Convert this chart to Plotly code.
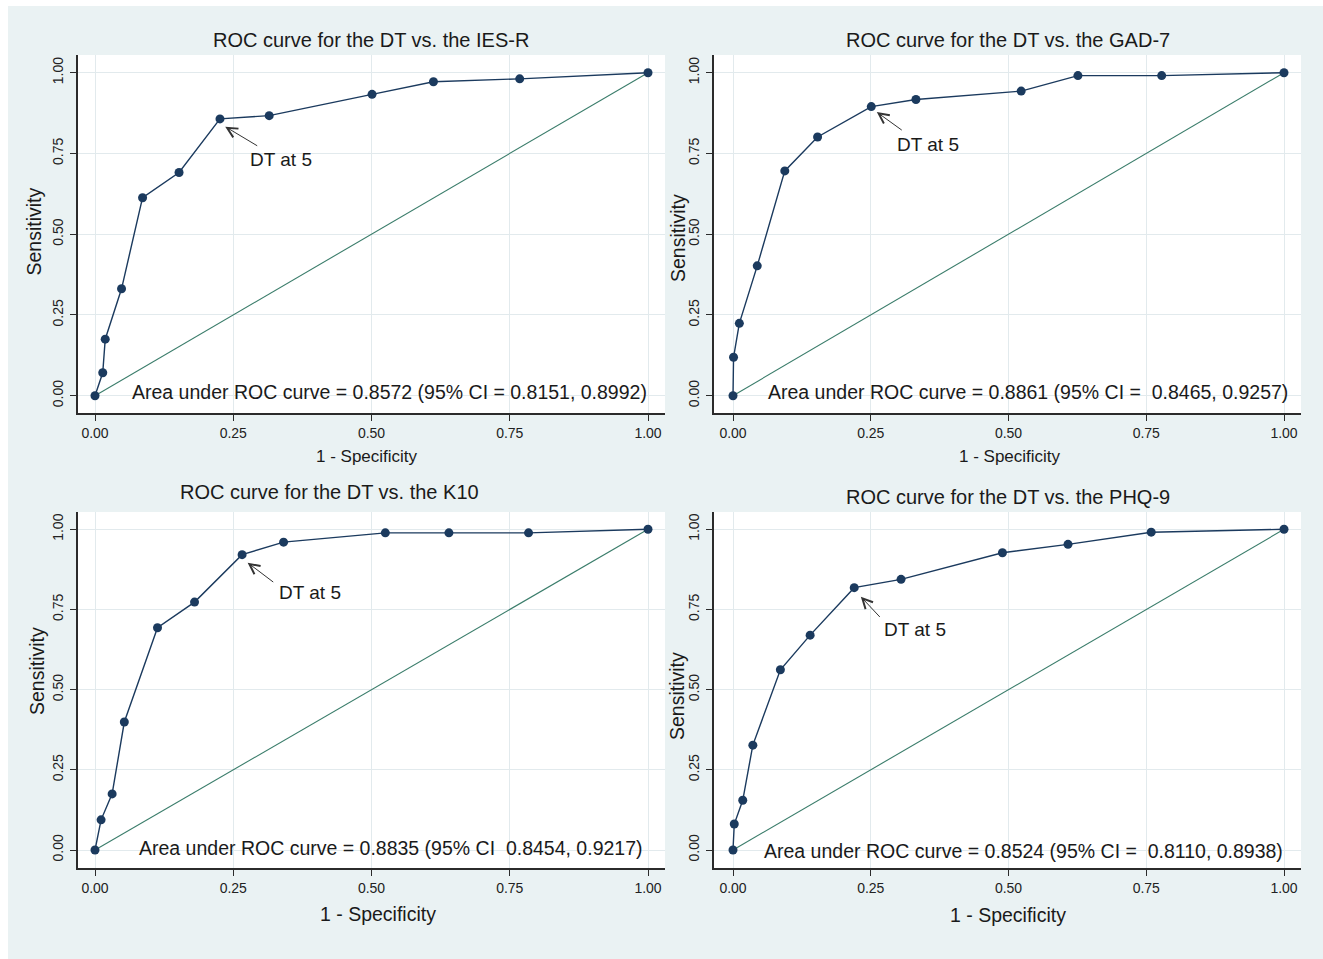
import plotly.graph_objects as go

W, H = 1323, 959

# ---------------- data ----------------
titles = [
    "ROC curve for the DT vs. the IES-R",
    "ROC curve for the DT vs. the GAD-7",
    "ROC curve for the DT vs. the K10",
    "ROC curve for the DT vs. the PHQ-9",
]
auc_labels = [
    "Area under ROC curve = 0.8572 (95% CI = 0.8151, 0.8992)",
    "Area under ROC curve = 0.8861 (95% CI =  0.8465, 0.9257)",
    "Area under ROC curve = 0.8835 (95% CI  0.8454, 0.9217)",
    "Area under ROC curve = 0.8524 (95% CI =  0.8110, 0.8938)",
]
x_title = "1 - Specificity"
y_title = "Sensitivity"
cut_label = "DT at 5"
tick_vals = [0.0, 0.25, 0.5, 0.75, 1.0]
tick_text = ["0.00", "0.25", "0.50", "0.75", "1.00"]

iesr_fpr = [0.0, 0.014, 0.0185, 0.048, 0.086, 0.152, 0.226, 0.315, 0.501, 0.612, 0.768, 1.0]
iesr_sens = [0.0, 0.071, 0.175, 0.331, 0.613, 0.691, 0.857, 0.867, 0.933, 0.972, 0.981, 1.0]

gad7_fpr = [0.0, 0.001, 0.0115, 0.044, 0.094, 0.1535, 0.251, 0.332, 0.523, 0.626, 0.778, 1.0]
gad7_sens = [0.0, 0.119, 0.224, 0.402, 0.696, 0.801, 0.895, 0.917, 0.943, 0.991, 0.991, 1.0]

k10_fpr = [0.0, 0.011, 0.031, 0.053, 0.113, 0.18, 0.266, 0.341, 0.525, 0.640, 0.784, 1.0]
k10_sens = [0.0, 0.094, 0.175, 0.399, 0.693, 0.773, 0.921, 0.960, 0.989, 0.989, 0.989, 1.0]

phq9_fpr = [0.0, 0.0023, 0.0177, 0.036, 0.086, 0.140, 0.220, 0.305, 0.489, 0.608, 0.759, 1.0]
phq9_sens = [0.0, 0.081, 0.155, 0.327, 0.562, 0.670, 0.818, 0.844, 0.927, 0.953, 0.991, 1.0]

ref_x = [0.0, 1.0]
ref_y = [0.0, 1.0]

series = [(iesr_fpr, iesr_sens), (gad7_fpr, gad7_sens), (k10_fpr, k10_sens), (phq9_fpr, phq9_sens)]

# ---------------- layout geometry (pixels) ----------------
panels = [
    dict(box=(78, 665, 55, 413), x0=95, x1=648, y0=395.7, y1=72.7,
         title=(371.5, 40), xt=(366.5, 456, 17), yt=(34, 231.5), auc=(389, 392),
         head=(0.2355, 0.833), tail=(0.296, 0.771), lab=(0.336, 0.732)),
    dict(box=(714, 1301, 55, 413), x0=733, x1=1284, y0=395.7, y1=72.7,
         title=(1008, 40), xt=(1010, 456, 17), yt=(678, 238), auc=(1028, 392),
         head=(0.261, 0.878), tail=(0.309, 0.819), lab=(0.353, 0.777)),
    dict(box=(78, 665, 512, 868), x0=95, x1=648, y0=850, y1=529.3,
         title=(329, 492), xt=(378, 914, 19.5), yt=(37, 671), auc=(391, 848),
         head=(0.276, 0.896), tail=(0.325, 0.832), lab=(0.388, 0.804)),
    dict(box=(714, 1301, 512, 868), x0=733, x1=1284, y0=850, y1=529.3,
         title=(1008, 497), xt=(1008.5, 915, 19.5), yt=(677, 696), auc=(1023, 851),
         head=(0.232, 0.790), tail=(0.269, 0.722), lab=(0.330, 0.688)),
]

FONT = "Liberation Sans, Arial, sans-serif"
TXT = "#1a1a1a"
NAVY = "#1b3a5e"
GREEN = "#3b7d6b"
GRID = "#e2eaed"
AXIS = "#2b2b2b"


def px(x):
    return x / W


def py(y):
    return 1 - y / H


fig = go.Figure()
layout = dict(
    width=W, height=H,
    margin=dict(l=0, r=0, t=0, b=0),
    paper_bgcolor="#eaf2f3",
    plot_bgcolor="white",
    showlegend=False,
    font=dict(family=FONT, color=TXT),
)
annotations = []
shapes = [
    dict(type="rect", xref="paper", yref="paper", x0=0, x1=px(8), y0=0, y1=1,
         fillcolor="white", line=dict(width=0), layer="below"),
    dict(type="rect", xref="paper", yref="paper", x0=0, x1=1, y0=py(6), y1=1,
         fillcolor="white", line=dict(width=0), layer="below"),
]

for i, (p, (fx, fy)) in enumerate(zip(panels, series)):
    n = "" if i == 0 else str(i + 1)
    xa, xb, ya, yb = p["box"]
    xr = [(xa - p["x0"]) / (p["x1"] - p["x0"]), (xb - p["x0"]) / (p["x1"] - p["x0"])]
    yr = [(p["y0"] - yb) / (p["y0"] - p["y1"]), (p["y0"] - ya) / (p["y0"] - p["y1"])]

    layout["xaxis" + n] = dict(
        domain=[px(xa), px(xb)], range=xr, anchor="y" + n,
        tickvals=tick_vals, ticktext=tick_text, ticks="outside", ticklen=6,
        tickcolor=AXIS, tickwidth=1.2, tickfont=dict(size=14, color="#222"),
        showline=True, linecolor=AXIS, linewidth=1.5, mirror=False,
        showgrid=True, gridcolor=GRID, gridwidth=1, zeroline=False,
        ticklabelstandoff=0, fixedrange=True,
    )
    layout["yaxis" + n] = dict(
        domain=[py(yb), py(ya)], range=yr, anchor="x" + n,
        tickvals=tick_vals, ticktext=tick_text, ticks="outside", ticklen=6,
        tickcolor=AXIS, tickwidth=1.2, tickfont=dict(size=14, color="#222"),
        tickangle=-90,
        showline=True, linecolor=AXIS, linewidth=1.5, mirror=False,
        showgrid=True, gridcolor=GRID, gridwidth=1, zeroline=False,
        ticklabelstandoff=2, fixedrange=True,
    )

    fig.add_trace(go.Scatter(
        x=ref_x, y=ref_y, mode="lines", xaxis="x" + n, yaxis="y" + n,
        line=dict(color=GREEN, width=1.1), hoverinfo="skip"))
    fig.add_trace(go.Scatter(
        x=fx, y=fy, mode="lines+markers", xaxis="x" + n, yaxis="y" + n,
        line=dict(color=NAVY, width=1.4),
        marker=dict(color=NAVY, size=9, line=dict(width=0))))

    annotations.append(dict(text=titles[i], xref="paper", yref="paper",
                            x=px(p["title"][0]), y=py(p["title"][1]),
                            xanchor="center", yanchor="middle", showarrow=False,
                            font=dict(size=20, color=TXT)))
    annotations.append(dict(text=x_title, xref="paper", yref="paper",
                            x=px(p["xt"][0]), y=py(p["xt"][1]),
                            xanchor="center", yanchor="middle", showarrow=False,
                            font=dict(size=p["xt"][2], color=TXT)))
    annotations.append(dict(text=y_title, xref="paper", yref="paper",
                            x=px(p["yt"][0]), y=py(p["yt"][1]), textangle=-90,
                            xanchor="center", yanchor="middle", showarrow=False,
                            font=dict(size=19.5, color=TXT)))
    annotations.append(dict(text=auc_labels[i], xref="paper", yref="paper",
                            x=px(p["auc"][0]), y=py(p["auc"][1]),
                            xanchor="center", yanchor="middle", showarrow=False,
                            font=dict(size=19.5, color=TXT)))
    annotations.append(dict(text="", xref="x" + n, yref="y" + n,
                            x=p["head"][0], y=p["head"][1],
                            axref="x" + n, ayref="y" + n,
                            ax=p["tail"][0], ay=p["tail"][1],
                            showarrow=True, arrowhead=5, arrowsize=2,
                            arrowwidth=1, arrowcolor="#333"))
    annotations.append(dict(text=cut_label, xref="x" + n, yref="y" + n,
                            x=p["lab"][0], y=p["lab"][1],
                            xanchor="center", yanchor="middle", showarrow=False,
                            font=dict(size=19, color=TXT)))

layout["annotations"] = annotations
layout["shapes"] = shapes
fig.update_layout(**layout)
fig.write_html(
    "out.html",
    config={"displayModeBar": False},
    post_script="document.body.style.margin='0';document.body.style.overflow='hidden';",
)
